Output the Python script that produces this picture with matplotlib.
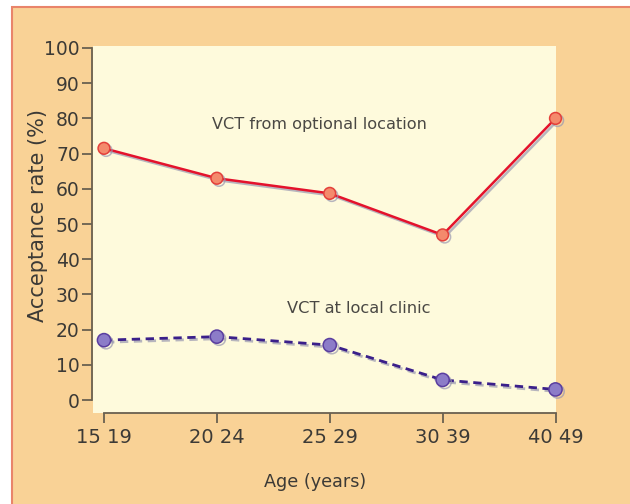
import matplotlib
matplotlib.use("Agg")
import matplotlib.pyplot as plt
import matplotlib.patheffects as pe
from matplotlib.patches import Rectangle

age_groups = ["15 19", "20 24", "25 29", "30 39", "40 49"]
optional_location = [71.5, 63.0, 58.7, 46.9, 80.0]
local_clinic = [17.0, 18.0, 15.6, 5.7, 3.0]
y_ticks = [0, 10, 20, 30, 40, 50, 60, 70, 80, 90, 100]

PEACH = "#f9d296"
YELLOW = "#fefadc"
BORDER = "#e9846a"
TXT = "#3c3a36"
SPINE = "#6a6050"

fig = plt.figure(figsize=(6.3, 5.04), dpi=100, facecolor="white")
fig.add_artist(Rectangle((12 / 630, -0.01), 1.0, 1 - 7 / 504 + 0.01,
                         transform=fig.transFigure, facecolor=PEACH,
                         edgecolor=BORDER, linewidth=1.5, zorder=-10))

ax = fig.add_axes([93 / 630, (504 - 413) / 504, 463 / 630, 367 / 504])
ax.set_facecolor(YELLOW)
x = list(range(len(age_groups)))

shadow = [pe.SimpleLineShadow(offset=(1.5, -1.5), shadow_color="#9a98b0", alpha=0.7), pe.Normal()]

ax.plot(x, optional_location, color="#e4122c", lw=1.8, marker="o", markersize=8.5,
        markerfacecolor="#f48a6c", markeredgecolor="#e4403a", markeredgewidth=1.1,
        clip_on=False, zorder=3, path_effects=shadow)
ax.plot(x, local_clinic, color="#3a1f8a", lw=2.0, ls=(0, (3, 2)), marker="o", markersize=9.5,
        markerfacecolor="#8c7cc8", markeredgecolor="#5a3ea0", markeredgewidth=1.1,
        clip_on=False, zorder=3, path_effects=shadow)

ax.set_xlim(-11 / 113, 4.0 + 0.5 / 113)
ax.set_ylim((400 - 413) / 3.52, (400 - 46) / 3.52)

for s in ["top", "right"]:
    ax.spines[s].set_visible(False)
ax.spines["left"].set_bounds(0, 100)
ax.spines["left"].set_position(("outward", 1))
ax.spines["bottom"].set_bounds(0, 4)
ax.spines["left"].set_color(SPINE)
ax.spines["bottom"].set_color(SPINE)
ax.spines["left"].set_linewidth(1.3)
ax.spines["bottom"].set_linewidth(1.3)

ax.set_yticks(y_ticks)
ax.set_yticklabels([str(v) for v in y_ticks])
ax.set_xticks(x)
ax.set_xticklabels(age_groups)
ax.tick_params(axis="y", direction="out", length=7, width=1.3, color=SPINE,
               labelsize=13.5, labelcolor=TXT, pad=1.5)
ax.tick_params(axis="x", direction="out", length=7, width=1.3, color=SPINE,
               labelsize=14, labelcolor=TXT, pad=4)

ax.text(1.91, 78.4, "VCT from optional location", ha="center", va="center",
        fontsize=11.6, color="#4a4844")
ax.text(2.26, 26.1, "VCT at local clinic", ha="center", va="center",
        fontsize=11.7, color="#4a4844")

fig.text(38 / 630, 1 - 215 / 504, "Acceptance rate (%)", rotation=90,
         ha="center", va="center", fontsize=15, color=TXT)
fig.text(315 / 630, 1 - 482 / 504, "Age (years)", ha="center", va="center",
         fontsize=12.7, color=TXT)

fig.savefig("out.png", dpi=100, facecolor="white")
